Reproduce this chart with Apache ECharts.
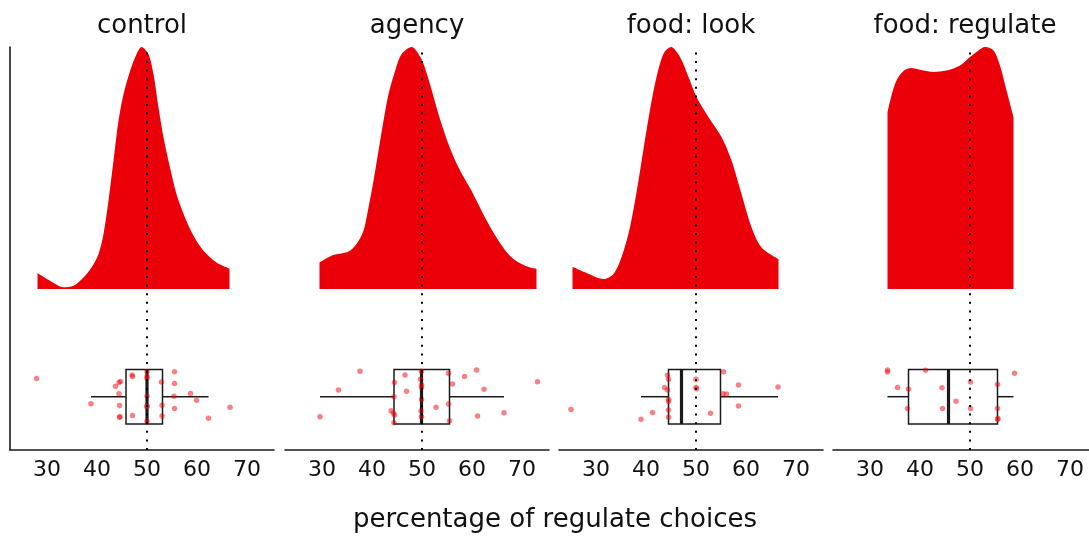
<!DOCTYPE html>
<html>
<head>
<meta charset="utf-8">
<script src="https://cdn.jsdelivr.net/npm/echarts@6/dist/echarts.min.js"></script>
<style>
  html, body { margin: 0; padding: 0; background: #ffffff; }
  #chart { width: 1089px; height: 555px; }
</style>
</head>
<body>
<div id="chart"></div>
<script>
// ---- data -------------------------------------------------------------
const panelNames = ['control', 'agency', 'food: look', 'food: regulate'];
const tickValues = [30, 40, 50, 60, 70];
const referenceValue = 50;
const axisTitle = 'percentage of regulate choices';

// density curves, scaled so each panel peaks at 1
const densControlX = [28.1, 30.6, 33.3, 35.3, 37.3, 38.9, 40.3, 41.3, 42.3, 43.3, 44.3, 45.3, 46.6, 47.9, 48.9, 50.3, 51.3, 52.3, 53.3, 54.6, 55.9, 57.6, 59.3, 61.3, 63.9, 66.5];
const densControlY = [0.066, 0.034, 0.007, 0.014, 0.048, 0.089, 0.144, 0.227, 0.365, 0.530, 0.695, 0.805, 0.900, 0.970, 1.000, 0.970, 0.887, 0.750, 0.626, 0.502, 0.392, 0.296, 0.220, 0.158, 0.110, 0.085];

const densAgencyX = [29.5, 31.9, 35.3, 36.9, 38.3, 39.3, 40.3, 41.3, 42.3, 43.3, 44.6, 45.9, 47.9, 49.9, 51.6, 53.3, 55.3, 57.3, 59.9, 62.6, 65.3, 67.9, 70.6, 72.9];
const densAgencyY = [0.110, 0.138, 0.155, 0.186, 0.241, 0.337, 0.447, 0.571, 0.695, 0.805, 0.900, 0.970, 1.000, 0.949, 0.846, 0.722, 0.598, 0.502, 0.406, 0.296, 0.200, 0.131, 0.096, 0.083];

const densLookX = [25.3, 27.8, 31.5, 33.5, 35.1, 36.8, 38.5, 40.1, 41.8, 43.5, 45.0, 46.8, 48.5, 50.1, 52.5, 55.1, 57.1, 59.1, 61.1, 63.1, 66.5];
const densLookY = [0.092, 0.069, 0.041, 0.062, 0.131, 0.255, 0.448, 0.655, 0.848, 0.972, 1.000, 0.959, 0.876, 0.793, 0.710, 0.628, 0.531, 0.393, 0.255, 0.172, 0.124];

const densRegulateX = [33.5, 34.3, 35.3, 36.7, 38.3, 40.0, 42.7, 45.3, 48.0, 50.0, 51.7, 53.0, 54.7, 56.0, 57.3, 58.7];
const densRegulateY = [0.731, 0.800, 0.862, 0.901, 0.913, 0.906, 0.897, 0.903, 0.924, 0.959, 0.986, 1.000, 0.986, 0.924, 0.821, 0.710];

// box statistics: lower whisker, Q1, median, Q3, upper whisker
const boxControl = [38.8, 45.8, 50.0, 53.1, 62.3];
const boxAgency = [29.6, 44.4, 49.9, 55.5, 66.4];
const boxLook = [39.0, 44.5, 47.1, 54.9, 66.4];
const boxRegulate = [33.5, 37.7, 45.7, 55.5, 58.7];

// individual participants: value and vertical jitter (box spans -1..1)
const ptsControlX = [27.9, 38.8, 43.7, 44.4, 44.7, 44.4, 44.5, 44.5, 44.6, 47.0, 47.1, 47.1, 50.0, 50.0, 50.0, 50.0, 50.0, 50.0, 50.0, 52.9, 53.0, 53.0, 55.5, 55.5, 55.4, 55.5, 58.7, 59.9, 62.3, 66.6];
const ptsControlJ = [0.67, -0.26, 0.38, 0.52, 0.56, 0.11, -0.32, -0.76, -0.74, 0.80, 0.74, -0.69, 0.92, 0.74, 0.67, 0.02, -0.34, -0.37, -0.90, 0.54, -0.31, -0.71, 0.92, 0.49, 0.02, -0.43, 0.12, -0.13, -0.79, -0.39];

const ptsAgencyX = [29.6, 33.3, 37.6, 43.8, 44.3, 44.4, 44.5, 44.5, 44.4, 46.6, 46.9, 49.7, 49.9, 49.9, 49.9, 49.9, 49.8, 49.9, 52.8, 55.3, 55.3, 55.5, 56.1, 58.5, 60.9, 61.1, 62.4, 66.4, 73.1];
const ptsAgencyJ = [-0.74, 0.25, 0.94, -0.52, -0.61, 0.00, 0.52, -0.67, -0.96, 0.80, 0.20, 0.64, 0.94, 0.43, 0.34, -0.10, -0.53, -0.74, -0.39, 0.86, -0.27, -0.88, 0.47, 0.74, 0.98, -0.71, 0.27, -0.59, 0.55];

const ptsLookX = [25.0, 39.0, 41.3, 43.7, 44.3, 44.5, 44.3, 44.5, 44.5, 44.5, 44.5, 50.0, 50.0, 50.1, 52.9, 55.5, 55.4, 56.1, 58.5, 58.5, 66.4];
const ptsLookJ = [-0.47, -0.83, -0.58, 0.34, 0.79, 0.64, 0.25, -0.09, -0.18, -0.49, -0.76, 0.64, 0.34, 0.29, -0.61, 0.92, 0.11, 0.10, 0.43, -0.34, 0.36];

const ptsRegulateX = [33.5, 33.5, 35.5, 37.7, 37.5, 41.1, 44.4, 44.5, 47.2, 50.1, 50.1, 55.5, 55.5, 55.6, 55.5, 58.9];
const ptsRegulateJ = [0.98, 0.91, 0.34, 0.28, -0.43, 0.97, 0.33, -0.43, -0.17, 0.54, -0.43, 0.45, -0.43, -0.80, -0.83, 0.86];

const densX = [densControlX, densAgencyX, densLookX, densRegulateX];
const densY = [densControlY, densAgencyY, densLookY, densRegulateY];
const boxes = [boxControl, boxAgency, boxLook, boxRegulate];
const ptsX = [ptsControlX, ptsAgencyX, ptsLookX, ptsRegulateX];
const ptsJ = [ptsControlJ, ptsAgencyJ, ptsLookJ, ptsRegulateJ];

// ---- layout & style ---------------------------------------------------
const FONT = '"DejaVu Sans", sans-serif';
const RED = '#EB0009';
const INK = '#1a1a1a';
const X_MIN = 22.6, X_MAX = 75.4;
const PANEL_LEFT = [10, 285, 559, 833];
const PANEL_WIDTH = 264;
const GRID_TOP = 47, GRID_HEIGHT = 403;

const grids = [], xAxes = [], yAxes = [], series = [], graphics = [];

panelNames.forEach((name, i) => {
  grids.push({
    left: PANEL_LEFT[i], top: GRID_TOP, width: PANEL_WIDTH, height: GRID_HEIGHT,
    containLabel: false, outerBoundsMode: 'none'
  });

  xAxes.push({
    type: 'value', gridIndex: i, min: X_MIN, max: X_MAX,
    splitLine: { show: false },
    axisTick: { show: false },
    axisLine: { show: true, onZero: false, lineStyle: { color: INK, width: 1.6 } },
    axisLabel: {
      customValues: tickValues, margin: 9,
      fontFamily: FONT, fontSize: 22, color: '#111'
    }
  });

  // density scale: baseline 0, peak 1
  yAxes.push({
    type: 'value', gridIndex: i, min: -0.665, max: 1,
    splitLine: { show: false }, axisTick: { show: false }, axisLabel: { show: false },
    axisLine: { show: i === 0, onZero: false, lineStyle: { color: INK, width: 1.6 } }
  });
  // box row scale: box spans -1..1
  yAxes.push({
    type: 'value', gridIndex: i, min: -1.96, max: 12.86, show: false,
    position: 'left'
  });

  series.push({
    type: 'line', xAxisIndex: i, yAxisIndex: 2 * i,
    data: densX[i].map((x, k) => [x, densY[i][k]]),
    smooth: 0.3, showSymbol: false, symbol: 'none',
    lineStyle: { width: 0 },
    areaStyle: { color: RED, opacity: 1 },
    silent: true, z: 1,
    markLine: {
      silent: true, symbol: 'none', label: { show: false },
      lineStyle: { color: '#000', type: [2, 6.6], width: 2 },
      data: [{ xAxis: referenceValue }],
      z: 5
    }
  });

  series.push({
    type: 'custom', xAxisIndex: i, yAxisIndex: 2 * i + 1,
    data: [boxes[i]],
    encode: { x: [0, 1, 2, 3, 4], y: -1 },
    silent: true, z: 3,
    renderItem: function (params, api) {
      const lo = api.value(0), q1 = api.value(1), med = api.value(2), q3 = api.value(3), hi = api.value(4);
      const pLo = api.coord([lo, 0]), pQ1 = api.coord([q1, 0]), pQ3 = api.coord([q3, 0]), pHi = api.coord([hi, 0]);
      const top = api.coord([q1, 1])[1], bot = api.coord([q1, -1])[1];
      const pMed = api.coord([med, 0]);
      const ls = { stroke: INK, lineWidth: 1.5, fill: null };
      return {
        type: 'group',
        children: [
          { type: 'line', shape: { x1: pLo[0], y1: pLo[1], x2: pQ1[0], y2: pQ1[1] }, style: ls },
          { type: 'line', shape: { x1: pQ3[0], y1: pQ3[1], x2: pHi[0], y2: pHi[1] }, style: ls },
          { type: 'rect', shape: { x: pQ1[0], y: top, width: pQ3[0] - pQ1[0], height: bot - top }, style: { stroke: INK, lineWidth: 1.5, fill: 'rgba(0,0,0,0)' } },
          { type: 'line', shape: { x1: pMed[0], y1: top, x2: pMed[0], y2: bot }, style: { stroke: INK, lineWidth: 3.2 } }
        ]
      };
    }
  });

  series.push({
    type: 'scatter', xAxisIndex: i, yAxisIndex: 2 * i + 1,
    data: ptsX[i].map((x, k) => [x, ptsJ[i][k]]),
    symbolSize: 5.5,
    itemStyle: { color: 'rgba(240,0,8,0.62)' },
    silent: true, z: 4
  });

  graphics.push({
    type: 'text', x: PANEL_LEFT[i] + PANEL_WIDTH / 2, y: 26,
    style: { text: name, font: '26px ' + FONT, fill: '#111', align: 'center', verticalAlign: 'middle' }
  });
});

graphics.push({
  type: 'text', x: 555, y: 520,
  style: { text: axisTitle, font: '26px ' + FONT, fill: '#111', align: 'center', verticalAlign: 'middle' }
});

const chart = echarts.init(document.getElementById('chart'), null, { renderer: 'canvas' });
chart.setOption({
  animation: false,
  backgroundColor: '#ffffff',
  grid: grids,
  xAxis: xAxes,
  yAxis: yAxes,
  series: series,
  graphic: graphics
});
</script>
</body>
</html>
